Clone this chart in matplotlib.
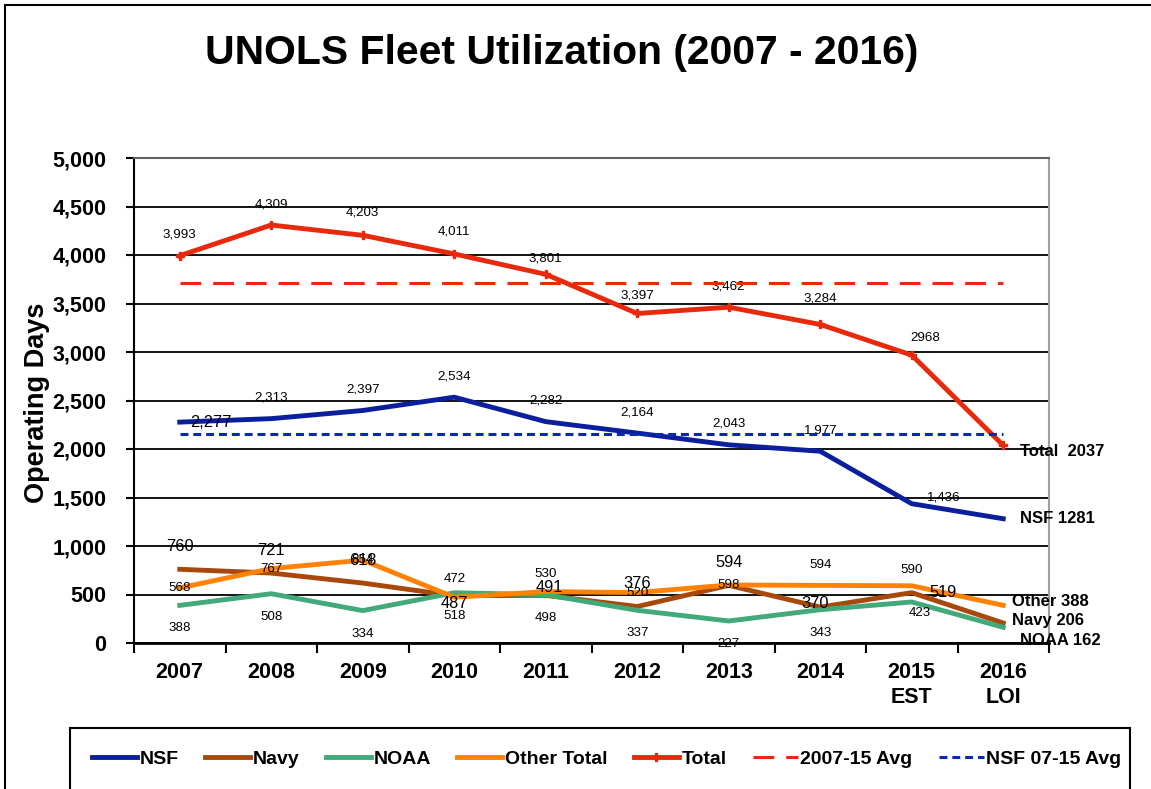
import matplotlib.pyplot as plt
from matplotlib.patches import Rectangle
from matplotlib.ticker import FuncFormatter
import numpy as np

plt.rcParams['font.family'] = ['Liberation Sans', 'DejaVu Sans']

# Data
years = ['2007', '2008', '2009', '2010', '2011', '2012', '2013', '2014', '2015\nEST', '2016\nLOI']
nsf = [2277, 2313, 2397, 2534, 2282, 2164, 2043, 1977, 1436, 1281]
navy = [760, 721, 618, 487, 491, 376, 594, 370, 519, 206]
noaa = [388, 508, 334, 518, 498, 337, 227, 343, 423, 162]
other = [568, 767, 854, 472, 530, 520, 598, 594, 590, 388]
total = [3993, 4309, 4203, 4011, 3801, 3397, 3462, 3284, 2968, 2037]
total_avg = 3714
nsf_avg = 2158

c_nsf = '#0A1E9E'
c_navy = '#A8480A'
c_noaa = '#41A97A'
c_other = '#FF8205'
c_total = '#E8290B'

fig = plt.figure(figsize=(11.51, 7.89), dpi=100)
ax = fig.add_axes([134 / 1151, 1 - 643 / 789, 915 / 1151, 485 / 789])
x = np.arange(len(years))

l_nsf, = ax.plot(x, nsf, color=c_nsf, lw=3.5, label='NSF', zorder=3)
l_navy, = ax.plot(x, navy, color=c_navy, lw=3.5, label='Navy', zorder=3)
l_noaa, = ax.plot(x, noaa, color=c_noaa, lw=3.5, label='NOAA', zorder=3)
l_other, = ax.plot(x, other, color=c_other, lw=3.5, label='Other Total', zorder=3)
l_total, = ax.plot(x, total, color=c_total, lw=3.5, marker='P', ms=6,
                   label='Total', zorder=3)
l_tavg, = ax.plot(x, [total_avg] * len(x), color=c_total, lw=2.2,
                  dashes=(6.8, 3.9), label='2007-15 Avg', zorder=4)
l_navg, = ax.plot(x, [nsf_avg] * len(x), color='#0A2AAA', lw=2.2,
                  dashes=(2.6, 1.6), label='NSF 07-15 Avg', zorder=4)


def label(vals, i, dx, dy, size, text=None, **kw):
    ax.annotate(text if text else f'{vals[i]:,}', (x[i], vals[i]), xytext=(dx, dy),
                textcoords='offset pixels', ha=kw.pop('ha', 'center'), va='center',
                fontsize=size, zorder=3, **kw)


# Total labels
t_dy = [21, 21, 23, 22, 16, 18, 21, 26]
for i, dy in enumerate(t_dy):
    label(total, i, 0, dy, 9.6)
label(total, 8, 14, 17, 9.6, text='2968')
label(total, 9, 17, -6, 12, text='Total  2037', ha='left', weight='bold')

# NSF labels
label(nsf, 0, 31, 0, 11.8)
for i in range(1, 8):
    label(nsf, i, 0, 21, 9.6)
label(nsf, 8, 32, 6, 9.6)
label(nsf, 9, 17, 0, 12, text='NSF 1281', ha='left', weight='bold')

# Navy labels
n_off = [(0, 23), (0, 23), (0, 23), (0, -8), (4, 8), (0, 23), (0, 23), (-5, 4), (31, 0)]
for i, (dx, dy) in enumerate(n_off):
    label(navy, i, dx, dy, 11.8)
label(navy, 9, 9, 3, 12, text='Navy 206', ha='left', weight='bold')

# Other labels
o_off = [(0, 0), (0, 0), (0, 0), (0, 18), (0, 18), (0, 0), (0, 0), (0, 20), (0, 16)]
for i, (dx, dy) in enumerate(o_off):
    label(other, i, dx, dy, 9.6)
label(other, 9, 9, 4, 12, text='Other 388', ha='left', weight='bold')

# NOAA labels
for i in range(8):
    label(noaa, i, 0, -23, 9.6)
label(noaa, 8, 8, -11, 9.6)
label(noaa, 9, 17, -13, 12, text='NOAA 162', ha='left', weight='bold')

# Axes styling
ax.set_xlim(-0.5, 9.5)
ax.set_ylim(0, 5000)
ax.set_yticks(range(0, 5001, 500))
ax.yaxis.set_major_formatter(FuncFormatter(lambda v, p: f'{int(v):,}'))
ax.yaxis.grid(True, color='black', lw=1.3)
ax.set_axisbelow(True)
ax.set_xticks(x)
ax.set_xticklabels(years)
ax.set_xticks(np.arange(-0.5, 10, 1), minor=True)
ax.tick_params(axis='x', which='major', length=0, pad=14, labelsize=15.5)
ax.tick_params(axis='x', which='minor', length=7, width=1.5, direction='out')
ax.tick_params(axis='y', length=6, width=1.5, direction='out', pad=14, labelsize=15.5)
for t in ax.get_xticklabels() + ax.get_yticklabels():
    t.set_fontweight('bold')
ax.spines['left'].set_linewidth(1.5)
ax.spines['bottom'].set_linewidth(2)
ax.spines['top'].set_color('#606060')
ax.spines['top'].set_linewidth(1.5)
ax.spines['right'].set_color('#A0A0A0')
ax.spines['right'].set_linewidth(1.5)

fig.text(562 / 1151, 1 - 53 / 789, 'UNOLS Fleet Utilization (2007 - 2016)',
         ha='center', va='center', fontsize=29.4, weight='bold')
fig.text(37 / 1151, 1 - 403 / 789, 'Operating Days', rotation=90,
         ha='center', va='center', fontsize=19.5, weight='bold')

# Borders
fig.patches.append(Rectangle((5 / 1151, -0.02), 1.05, 1 - 5 / 789 + 0.02,
                             transform=fig.transFigure, fill=False, ec='black', lw=1.5))
fig.patches.append(Rectangle((70 / 1151, -0.02), 1060 / 1151, 61 / 789 + 0.02,
                             transform=fig.transFigure, fill=False, ec='black', lw=1.5))

handles = [l_nsf, l_navy, l_noaa, l_other, l_total, l_tavg, l_navg]
fig.legend(handles, [h.get_label() for h in handles], loc='center',
           bbox_to_anchor=(607 / 1151, 1 - 759 / 789), ncol=7, frameon=False,
           prop={'weight': 'bold', 'size': 14}, handlelength=2.3,
           handletextpad=0.15, columnspacing=1.35)

fig.savefig('out.png', dpi=100)
